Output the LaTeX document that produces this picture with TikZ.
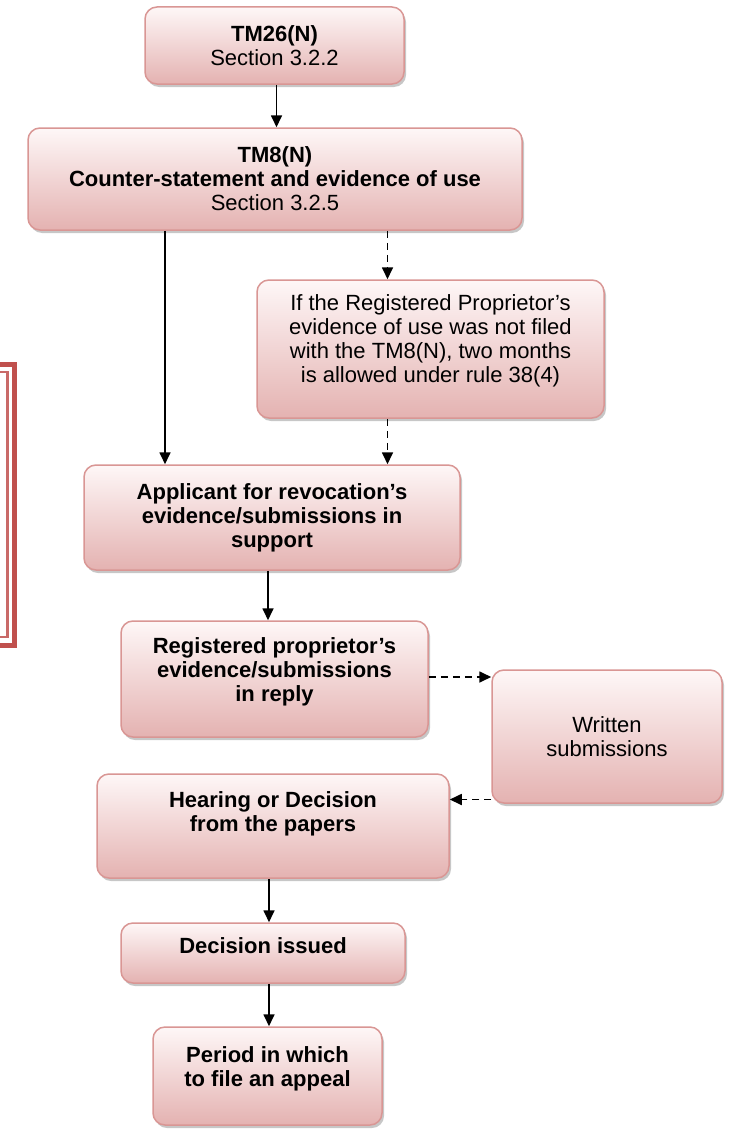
\documentclass[tikz,border=0pt]{standalone}
\usepackage{fontspec}
\setmainfont{Liberation Sans}
\usepackage{xcolor}
\definecolor{BoxLine}{HTML}{D99694}
\definecolor{BoxTop}{HTML}{FEF7F7}
\definecolor{BoxBot}{HTML}{E4B2B1}
\definecolor{FrameRed}{HTML}{C0504D}
\usepackage{tikz}
\usetikzlibrary{arrows.meta,shadows}
\tikzset{
  bx/.style={draw=BoxLine,line width=1.5pt,rounded corners=12pt,
    top color=BoxTop,bottom color=BoxBot,align=center,inner sep=4pt,
    drop shadow={shadow xshift=2pt,shadow yshift=-3pt,fill=black,opacity=0.22},
    font=\fontsize{22}{24}\selectfont,text=black},
  lift/.style={text depth=#1},
  flow/.style={-{Triangle[length=12pt,width=11pt]},line width=1.7pt},
  dflow/.style={flow,dash pattern=on 7pt off 5pt},
}

\begin{document}
\begin{tikzpicture}[x=1pt,y=-1pt]
\path[fill=white,use as bounding box] (0,0) rectangle (732,1132);

% side frame (left edge)
\draw[FrameRed,line width=5pt] (-10,364.5) rectangle (14.5,645);
\draw[FrameRed!85,line width=2.5pt] (-10,372) rectangle (7.5,637);

\node[bx,minimum width=259pt,minimum height=77pt] (tm26) at (274.5,45.5)
  {\textbf{TM26(N)}\\Section 3.2.2};
\node[bx,minimum width=494pt,minimum height=102pt] (tm8) at (275,179)
  {\textbf{TM8(N)}\\\textbf{Counter-statement and evidence of use}\\Section 3.2.5};
\node[bx,lift=20pt,minimum width=347pt,minimum height=138pt] (late) at (430.5,349)
  {If the Registered Proprietor’s\\evidence of use was not filed\\with the TM8(N), two months\\is allowed under rule 38(4)};
\node[bx,minimum width=376pt,minimum height=105pt] (appl) at (272,517.5)
  {\textbf{Applicant for revocation’s}\\\textbf{evidence/submissions in}\\\textbf{support}};
\node[bx,lift=19pt,minimum width=307pt,minimum height=116pt] (reply) at (274.5,679)
  {\textbf{Registered proprietor’s}\\\textbf{evidence/submissions}\\\textbf{in reply}};
\node[bx,minimum width=230pt,minimum height=133pt] (written) at (607,736.5)
  {Written\\submissions};
\node[bx,lift=29pt,minimum width=352pt,minimum height=104pt] (hear) at (273,826)
  {\textbf{Hearing or Decision}\\\textbf{from the papers}};
\node[bx,lift=14pt,minimum width=284pt,minimum height=60pt] (dec) at (263,953)
  {\textbf{Decision issued}};
\node[bx,lift=19pt,minimum width=229pt,minimum height=98pt] (appeal) at (267.5,1076)
  {\textbf{Period in which}\\\textbf{to file an appeal}};

\draw[flow] ([xshift=2pt]tm26.south) -- ([xshift=2pt]tm26.south |- tm8.north);
\draw[flow] ([xshift=-110pt]tm8.south) -- ([xshift=-110pt]tm8.south |- appl.north);
\draw[dflow] ([xshift=-43pt]late.north |- tm8.south) -- ([xshift=-43pt]late.north);
\draw[dflow] ([xshift=-43pt]late.south) -- ([xshift=-43pt]late.south |- appl.north);
\draw[flow] ([xshift=-4pt]appl.south) -- ([xshift=-4pt]appl.south |- reply.north);
\draw[dflow] ([yshift=2pt]reply.east) -- ([yshift=2pt]reply.east -| written.west);
\draw[dflow] ([yshift=-63pt]written.west) -- ([yshift=-63pt]written.west -| hear.east);
\draw[flow] ([xshift=-4pt]hear.south) -- ([xshift=-4pt]hear.south |- dec.north);
\draw[flow] ([xshift=6pt]dec.south) -- ([xshift=6pt]dec.south |- appeal.north);
\end{tikzpicture}
\end{document}
